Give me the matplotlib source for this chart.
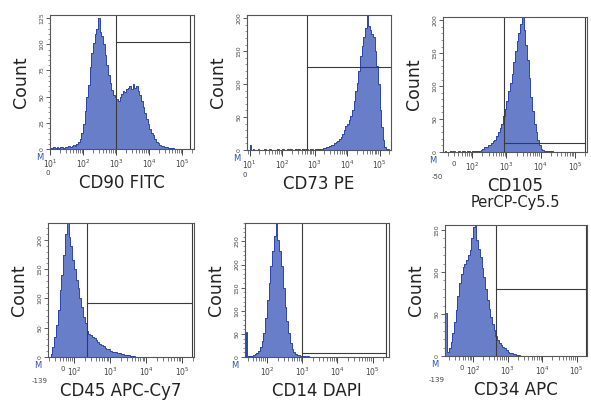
import numpy as np
import matplotlib.pyplot as plt
from matplotlib.ticker import FixedLocator, MultipleLocator

STEP = 0.05  # bin width in decades

# counts per bin, first bin starts at *_lo (log10 units)
cd90_lo = 0.9
cd90 = [1, 2, 1, 1, 2, 1, 2, 1, 2, 2, 1, 2,
        2, 3, 2, 3, 4, 3,
        5, 7, 10, 15,
        24, 36, 50, 61, 78, 92, 101, 110, 115, 125,
        112, 108, 100, 90, 80, 71, 63, 56, 52, 50,
        48, 46, 50, 53, 55, 54, 57, 58, 60, 57,
        62, 58, 60, 55, 52, 46, 40, 34, 29, 24,
        19, 15, 13, 10, 7, 6, 4, 3, 3, 2,
        2, 1, 1, 1, 1, 0, 0, 0]

cd73_lo = 0.9
cd73 = [0, 0, 8,
        0, 1, 0, 0, 1, 0, 0, 0, 1, 0, 0, 1, 0, 0, 0, 0, 1, 0, 0, 1, 0, 0,
        1, 0, 1, 0, 0, 1, 0, 1, 0, 1, 1, 0, 1, 0, 1, 1, 0, 1, 1, 2, 1,
        2, 3, 3, 4, 5, 6,
        7, 8, 10, 12, 14, 17, 20, 25, 30, 36,
        40, 46, 51, 60, 75, 90, 101, 120, 142, 158,
        172, 185, 205, 188, 182, 176, 172, 150, 127, 100,
        61, 35, 15, 5, 2, 1, 0, 0]

cd105_lo = 1.15
cd105 = [0, 1, 0, 0, 1, 0, 1, 0, 0, 1, 0, 1, 1, 0, 1, 1, 0, 1, 1, 1, 2,
         2, 3, 5, 7, 8, 10,
         11, 13, 16, 18, 24, 30, 37, 43, 55, 65,
         78, 92, 105, 119, 136, 154, 168, 180, 195, 205,
         185, 162, 139, 112, 84, 62, 43, 30, 18, 10,
         5, 3, 2, 2, 1, 1, 1, 0, 0, 0]

cd45_lo = 1.3
cd45 = [0, 5, 17, 35, 55, 80, 115, 140, 175, 210,
        229, 205, 190, 165, 150, 132, 118, 100, 85, 69,
        58, 45, 40, 37, 34, 33, 29, 26, 23, 21,
        18, 16, 14, 13, 11, 9, 9, 8, 7, 6,
        5, 5, 4, 3, 3, 2, 1, 1, 0, 0]

cd14_lo = 1.4
cd14 = [54, 3, 2, 3, 4, 6, 9, 14, 22, 35,
        51, 85, 123, 160, 196, 230, 261, 290, 254, 230,
        196, 150, 109, 78, 51, 30, 18, 10, 7, 5,
        4, 3, 3, 2, 1, 2, 1, 1, 0, 1, 0, 1, 0, 0, 1, 0, 0, 0]

cd34_lo = 1.2
cd34 = [51, 5, 10, 17, 27, 40, 55, 72, 87, 98,
        106, 110, 114, 120, 126, 140, 154, 156, 138, 128,
        118, 105, 94, 80, 67, 56, 47, 38, 31, 24,
        19, 15, 13, 11, 9, 7, 5, 4, 3, 2,
        2, 1, 1, 0, 0]

labels = ['CD90 FITC', 'CD73 PE', 'CD105', 'CD45 APC-Cy7', 'CD14 DAPI', 'CD34 APC']
ymaxes = [128, 205, 205, 229, 290, 156]
ysteps = [25, 50, 50, 50, 50, 50]
xlims = [(1.0, 5.35), (0.92, 5.35), (1.15, 5.35), (1.28, 5.33), (1.38, 5.46), (1.19, 5.3)]
first_decade = [1, 1, 2, 2, 2, 2]
# gates: vertical cut, horizontal level, right edge (None = axis edge)
gate_x = [3.0, 2.77, 2.93, 2.36, 2.99, 2.66]
gate_y = [102, 126, 14, 92, 9, 80]
gate_r = [5.22, None, 5.3, 5.28, 5.37, 5.27]
# extra zero / negative labels: (pos, text, lower row?)
extra = [[(1.0, '0', True)], [(0.92, '0', True)],
         [(1.15, '-50', True), (1.45, '0', False)],
         [(1.28, '-139', True), (1.69, '0', False)], [],
         [(1.19, '-139', True), (1.67, '0', False)]]

hists = [(cd90_lo, cd90), (cd73_lo, cd73), (cd105_lo, cd105),
         (cd45_lo, cd45), (cd14_lo, cd14), (cd34_lo, cd34)]

# axes boxes in pixels: left, top, right, bottom
rects = [(50, 15, 194, 149), (247, 15, 391, 150), (443, 17, 587, 152),
         (48, 223, 194, 357), (245, 223, 389, 357), (445, 225, 587, 356)]

W, H = 591, 403
fig = plt.figure(figsize=(W / 100, H / 100), dpi=100)
fill_c = '#6077c6'
edge_c = '#2a45b0'
gate_c = '#3a3a3a'

for i in range(6):
    l, t, r, b = rects[i]
    ax = fig.add_axes([l / W, (H - b) / H, (r - l) / W, (b - t) / H])
    lo, counts = hists[i]
    counts = np.array(counts, dtype=float)
    edges = lo + STEP * np.arange(len(counts) + 1)
    ax.stairs(counts, edges, fill=True, color=fill_c, alpha=0.95)
    ax.stairs(counts, edges, color=edge_c, lw=0.7)

    x0, x1 = xlims[i]
    ymax = ymaxes[i]
    ax.set_xlim(x0, x1)
    ax.set_ylim(0, ymax)

    # gate lines
    gr = gate_r[i] if gate_r[i] is not None else x1
    ax.plot([gate_x[i], gate_x[i]], [0, ymax], color=gate_c, lw=0.8)
    ax.plot([gate_x[i], gr], [gate_y[i], gate_y[i]], color=gate_c, lw=0.8)
    if gate_r[i] is not None:
        ax.plot([gr, gr], [0, ymax], color=gate_c, lw=0.8)

    # x ticks (log decades)
    decs = list(range(first_decade[i], 6))
    ax.xaxis.set_major_locator(FixedLocator(decs))
    ax.set_xticklabels(['$10^{%d}$' % d for d in decs], fontsize=5.5, color='#444')
    minors = [d + np.log10(k) for d in range(first_decade[i] - 1, 6) for k in range(2, 10)]
    minors = [m for m in minors if x0 < m < x1]
    ax.xaxis.set_minor_locator(FixedLocator(minors))
    ax.tick_params(axis='x', which='major', length=4, width=0.7, pad=2, color='#444')
    ax.tick_params(axis='x', which='minor', length=3, width=0.5, color='#444')

    for pos, txt, low in extra[i]:
        ax.text(pos, -0.16 if low else -0.07, txt, fontsize=5, color='#444',
                ha='right' if low else 'center', va='top',
                transform=ax.get_xaxis_transform())

    # y ticks
    ax.yaxis.set_major_locator(MultipleLocator(ysteps[i]))
    ax.yaxis.set_minor_locator(MultipleLocator(ysteps[i] / 5))
    ax.tick_params(axis='y', which='major', length=3, width=0.6, pad=1,
                   labelsize=4.5, colors='#444')
    ax.tick_params(axis='y', which='minor', length=1.5, width=0.4, color='#444')
    for lab in ax.get_yticklabels():
        lab.set_rotation(90)
        lab.set_va('center')

    for s in ax.spines.values():
        s.set_color('#555')
        s.set_linewidth(0.8)

    wpx = r - l
    hpx = b - t
    ax.text(-29 / wpx, 0.5, 'Count', rotation=90, fontsize=12.5, color='#222',
            ha='center', va='center', transform=ax.transAxes)
    ax.text(-10 / wpx, -4 / hpx, 'M', fontsize=6, color='#3050c0',
            ha='center', va='top', transform=ax.transAxes)
    ax.text(0.5, -34 / hpx, labels[i], fontsize=12, color='#222',
            ha='center', va='center', transform=ax.transAxes)
    if i == 2:
        ax.text(0.5, -50 / hpx, 'PerCP-Cy5.5', fontsize=10.5, color='#222',
                ha='center', va='center', transform=ax.transAxes)

fig.savefig('out.png', dpi=100)
